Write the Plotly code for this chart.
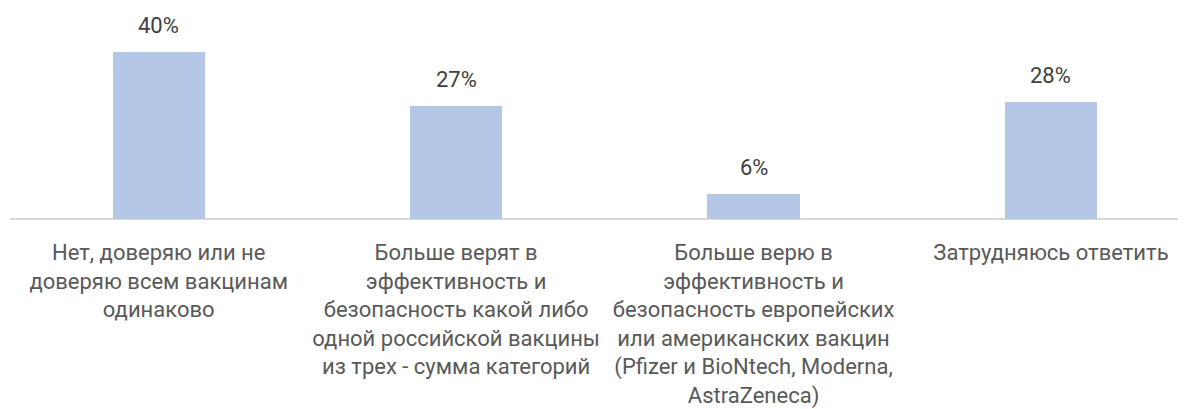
import plotly.graph_objects as go

categories = [
    "Нет, доверяю или не<br>доверяю всем вакцинам<br>одинаково",
    "Больше верят в<br>эффективность и<br>безопасность какой либо<br>одной российской вакцины<br>из трех - сумма категорий",
    "Больше верю в<br>эффективность и<br>безопасность европейских<br>или американских вакцин<br>(Pfizer и BioNtech, Moderna,<br>AstraZeneca)",
    "Затрудняюсь ответить",
]
values = [40, 27, 6, 28]
value_labels = ["40%", "27%", "6%", "28%"]

FONT = "Roboto"
x_idx = list(range(len(categories)))

fig = go.Figure()
fig.add_trace(go.Bar(
    x=x_idx, y=values, width=0.31,
    marker=dict(color="#B4C7E7", line=dict(width=0)),
    hoverinfo="skip",
))

for i, (v, lab) in enumerate(zip(values, value_labels)):
    fig.add_annotation(x=i, y=v, text=lab, showarrow=False, yanchor="middle",
                       yshift=26, font=dict(family=FONT, size=22, color="#404040"))

fig.update_layout(
    width=1178, height=401,
    margin=dict(l=2, r=0, t=0, b=188),
    plot_bgcolor="white", paper_bgcolor="white",
    showlegend=False,
    bargap=0,
)
fig.update_xaxes(
    range=[-0.5, 3.454], tickmode="array", tickvals=x_idx, ticktext=categories,
    tickfont=dict(family=FONT, size=22, color="#595959"),
    showgrid=False, zeroline=False, showline=False, ticks="",
    ticklabelstandoff=18,
)
fig.update_yaxes(
    range=[0, 50.4], showgrid=False, zeroline=True, zerolinecolor="#D9D9D9",
    zerolinewidth=2, showticklabels=False, showline=False, ticks="",
)

fig.write_html("out.html")
